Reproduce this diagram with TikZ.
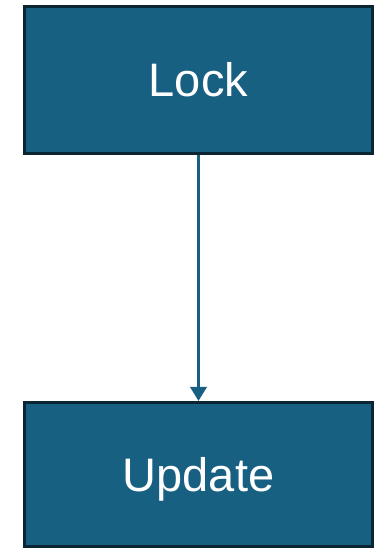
\documentclass[tikz,border=0pt]{standalone}
\usepackage{fontspec}
\setmainfont{Liberation Sans}
\usetikzlibrary{arrows.meta}
\definecolor{boxfill}{RGB}{24,96,130}
\definecolor{boxedge}{RGB}{11,37,51}
\begin{document}
\begin{tikzpicture}[x=1pt, y=1pt,
		stage/.style={draw=boxedge, fill=boxfill, line width=3pt, minimum width=348pt, text=white, text height=34pt, text depth=0pt, font=\fontsize{47}{56}\selectfont},
		flow/.style={draw=boxfill, line width=3.5pt, -{Triangle[width=16pt, length=14pt]}}]
			\useasboundingbox (0,0) rectangle (374,548);
			\node[stage, minimum height=147pt] (lock) at (198.5,468) {Lock};
			\node[stage, minimum height=144pt] (update) at (198.5,73.5) {Update};
			\draw[flow] (lock.south) -- (update.north);
		\end{tikzpicture}
\end{document}
